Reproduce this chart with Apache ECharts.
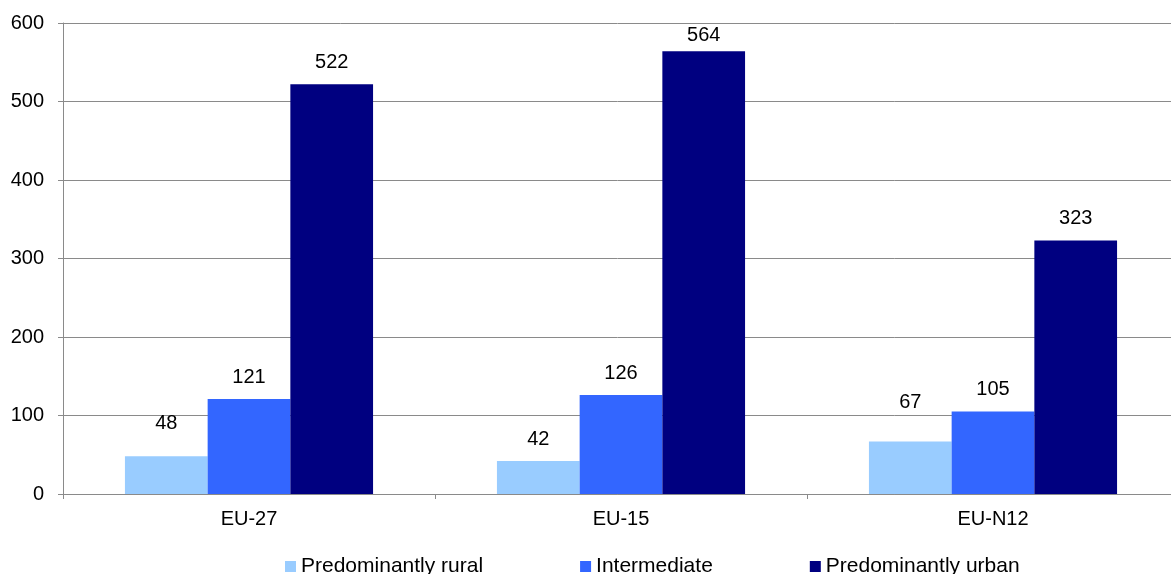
<!DOCTYPE html>
<html>
<head>
<meta charset="utf-8">
<script src="https://cdn.jsdelivr.net/npm/echarts@6/dist/echarts.min.js"></script>
<style>
  html, body { margin: 0; padding: 0; background: #fff; }
  #chart { width: 1171px; height: 574px; }
</style>
</head>
<body>
<div id="chart"></div>
<script>
// Regions and their values per area type
const categories = ['EU-27', 'EU-15', 'EU-N12'];
const rural = [48, 42, 67];
const intermediate = [121, 126, 105];
const urban = [522, 564, 323];
const seriesNames = ['Predominantly rural', 'Intermediate', 'Predominantly urban'];
const seriesColors = ['#99CCFF', '#3366FF', '#000080'];

const font = 'Liberation Sans, Arial, sans-serif';
const gridGray = '#8a8a8a';

const chart = echarts.init(document.getElementById('chart'), null, { renderer: 'canvas' });

const seriesData = [rural, intermediate, urban];

// a few value labels sit at a different height above their bars
const labelDistance = { '0-0': 23, '0-2': 29, '2-1': 6 };

chart.setOption({
  animation: false,
  backgroundColor: '#ffffff',
  // the plot runs slightly past the right edge of the canvas
  grid: { left: 63, width: 1116, top: 23, bottom: 80, containLabel: false, outerBoundsMode: 'none' },
  legend: {
    left: 280,
    top: 551,
    itemWidth: 11,
    itemHeight: 11,
    itemGap: 97,
    icon: 'rect',
    textStyle: { fontFamily: font, fontSize: 21, color: '#000' },
    data: seriesNames
  },
  xAxis: {
    type: 'category',
    data: categories,
    axisLine: { show: true, lineStyle: { color: gridGray, width: 1 } },
    axisTick: { show: true, length: 5, alignWithLabel: false, lineStyle: { color: gridGray } },
    axisLabel: { fontFamily: font, fontSize: 20, color: '#000', margin: 15 }
  },
  yAxis: {
    type: 'value',
    min: 0,
    max: 600,
    interval: 100,
    axisLine: { show: true, lineStyle: { color: gridGray, width: 1 } },
    axisTick: { show: true, length: 5, lineStyle: { color: gridGray } },
    axisLabel: { fontFamily: font, fontSize: 20, color: '#000', margin: 19 },
    splitLine: { show: true, lineStyle: { color: gridGray, width: 1 } }
  },
  series: seriesNames.map((name, i) => ({
    name: name,
    type: 'bar',
    data: seriesData[i].map((v, j) => {
      const d = labelDistance[i + '-' + j];
      return d === undefined ? v : { value: v, label: { distance: d } };
    }),
    barGap: '0%',
    barCategoryGap: '33.3%',
    itemStyle: { color: seriesColors[i] },
    label: {
      show: true,
      position: 'top',
      distance: 12,
      fontFamily: font,
      fontSize: 20,
      color: '#000'
    }
  }))
});
</script>
</body>
</html>
